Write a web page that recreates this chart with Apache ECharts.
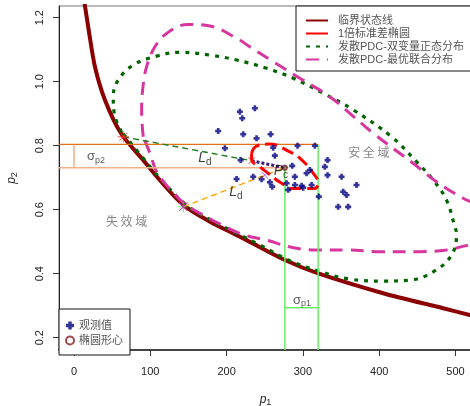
<!DOCTYPE html>
<html>
<head>
<meta charset="utf-8">
<script src="https://cdn.jsdelivr.net/npm/echarts@6/dist/echarts.min.js"></script>
<style>
  html, body { margin: 0; padding: 0; background: #fff; }
  #chart { width: 470px; height: 406px; }
</style>
</head>
<body>
<div id="chart"></div>
<script>
'use strict';

// 刻度
var xTicks = [0, 100, 200, 300, 400, 500];
var yTicks = [0.2, 0.4, 0.6, 0.8, 1.0, 1.2];

// 临界状态线
var limitX = [12.4, 14.4, 20.0, 27.5, 40.6, 61.6, 90.8, 112.7, 143.2, 178.2, 208.7, 226.2, 276.4, 320.1, 405.2, 483.8, 518.7, 530];
var limitY = [1.265, 1.2375, 1.151, 1.047, 0.943, 0.839, 0.755, 0.692, 0.615, 0.5625, 0.526, 0.505, 0.443, 0.401, 0.339, 0.292, 0.271, 0.265];

// 1倍标准差椭圆
var ellX = [232.8, 239.3, 254.5, 282.9, 298.7, 313.5, 320.0, 313.5, 287.3, 272.1, 254.5, 243.6, 232.8, 232.8];
var ellY = [0.776, 0.799, 0.805, 0.781, 0.755, 0.714, 0.6825, 0.666, 0.666, 0.6825, 0.714, 0.734, 0.758, 0.776];

// 发散PDC-双变量正态分布
var normX = [62.5, 52.8, 51.5, 58.0, 77.7, 108.3, 138.9, 178.2, 213.1, 252.4, 287.3, 326.6, 365.9, 416.2, 448.9, 470.7, 488.2, 499.1, 501.3, 494.8, 470.7, 440.1, 405.2, 361.5, 322.2, 282.9, 243.6, 208.7, 178.2, 147.6, 114.0, 90.4, 62.5];
var normY = [0.843, 0.901, 0.953, 1.005, 1.052, 1.080, 1.092, 1.083, 1.068, 1.042, 1.011, 0.964, 0.912, 0.828, 0.750, 0.693, 0.630, 0.547, 0.526, 0.458, 0.406, 0.380, 0.377, 0.383, 0.407, 0.441, 0.490, 0.532, 0.569, 0.614, 0.695, 0.762, 0.843];

// 发散PDC-最优联合分布
var optX = [90.8, 88.7, 90.0, 95.2, 106.1, 121.4, 149.7, 178.2, 213.1, 230.5, 261.1, 296.0, 335.3, 361.5, 392.1, 444.5, 475.1, 510.0, 531.8, 571, 532, 518.7, 488.2, 453.2, 400.8, 357.2, 317.9, 282.9, 252.4, 221.8, 195.6, 169.4, 147.6, 125.8, 108.3, 99.6, 90.8];
var optY = [0.828, 0.901, 0.974, 1.047, 1.109, 1.151, 1.179, 1.174, 1.136, 1.109, 1.0625, 1.011, 0.953, 0.901, 0.839, 0.745, 0.6875, 0.636, 0.612, 0.552, 0.492, 0.490, 0.474, 0.469, 0.469, 0.474, 0.474, 0.484, 0.505, 0.522, 0.550, 0.583, 0.614, 0.664, 0.719, 0.776, 0.828];

// 观测值
var obsX = [237.1, 217.4, 220.5, 189.0, 221.8, 239.3, 257.7, 197.8, 261.1, 293.0, 315.7, 263.3, 218.4, 286.0, 332.3, 328.8, 332.3, 213.1, 234.9, 245.9, 256.7, 259.8, 289.5, 304.8, 309.1, 278.6, 280.7, 289.5, 298.3, 300.4, 311.4, 320.9, 350.7, 370.3, 352.8, 357.2, 346.2, 359.3];
var obsY = [0.917, 0.906, 0.886, 0.846, 0.836, 0.823, 0.836, 0.792, 0.794, 0.800, 0.800, 0.769, 0.755, 0.737, 0.755, 0.734, 0.708, 0.696, 0.703, 0.695, 0.686, 0.672, 0.703, 0.714, 0.724, 0.6825, 0.662, 0.677, 0.675, 0.669, 0.677, 0.641, 0.703, 0.677, 0.656, 0.646, 0.609, 0.609];

// 椭圆形心与标准差
var centerP1 = 276.4, centerP2 = 0.731;
var sigmaP1 = 43.6, sigmaP2 = 0.073;

// 设计点（星号）与 Ld 终点（叉号）
var starNorm = [64.6, 0.828];
var starOpt = [143.2, 0.609];
var crossNorm = [232.8, 0.753];
var crossOpt = [250.2, 0.708];

// 文字标注
var noteText = ['{t|安 全 域}', '{t|失 效 域}', '{g|σ}{s|p2}', '{g|σ}{s|p1}', '{l|L}{d|d}', '{l|L}{d|d}', '{l|P}{d|c}'];
var noteX = [386.4, 69.0, 28.8, 298.7, 171.6, 212.2, 271.2];
var noteY = [0.780, 0.5625, 0.766, 0.318, 0.762, 0.655, 0.721];

var xMin = -19.6, xMax = 521.6;
var yMin = 0.1616, yMax = 1.2366;

var FONT = 'Liberation Sans, Arial, Noto Sans CJK SC, sans-serif';
var PLUS_FAT = 'path://M-1.3,-3L1.3,-3L1.3,-1.3L3,-1.3L3,1.3L1.3,1.3L1.3,3L-1.3,3L-1.3,1.3L-3,1.3L-3,-1.3L-1.3,-1.3Z';
var STAR = 'path://M-0.8,-10L0.8,-10L0.8,10L-0.8,10ZM-10,-0.8L10,-0.8L10,0.8L-10,0.8ZM-6.6,-7.7L7.7,6.6L6.6,7.7L-7.7,-6.6ZM6.6,-7.7L7.7,-6.6L-6.6,7.7L-7.7,6.6Z';
var CROSS = 'path://M-6.6,-7.7L7.7,6.6L6.6,7.7L-7.7,-6.6ZM6.6,-7.7L7.7,-6.6L-6.6,7.7L-7.7,6.6Z';
var PLUS = 'path://M-0.8,-10L0.8,-10L0.8,10L-0.8,10ZM-10,-0.8L10,-0.8L10,0.8L-10,0.8Z';

function zip(xs, ys) {
  var out = [];
  for (var i = 0; i < xs.length; i++) {
    out.push([xs[i], ys[i]]);
  }
  return out;
}

// 辅助线段
function segment(pts, color, width, type, z) {
  return {
    type: 'line', data: pts, symbol: 'none', silent: true, z: z,
    lineStyle: { color: color, width: width, type: type }
  };
}

function marker(pt, symbol, size, color, z) {
  return {
    type: 'scatter', data: [pt], symbol: symbol, symbolSize: size, silent: true, z: z,
    itemStyle: { color: color }
  };
}

var notes = [];
for (var i = 0; i < noteText.length; i++) {
  notes.push({ value: [noteX[i], noteY[i]], label: { formatter: noteText[i] } });
}

var chart = echarts.init(document.getElementById('chart'), null, { renderer: 'canvas' });

var option = {
  animation: false,
  grid: {
    left: 59, right: -2, top: 6, bottom: 56,
    outerBoundsMode: 'none', containLabel: false,
    show: true, borderColor: '#777', borderWidth: 1
  },
  legend: [
    {
      data: [
        { name: '临界状态线' },
        { name: '1倍标准差椭圆', lineStyle: { type: 'solid' } },
        { name: '发散PDC-双变量正态分布' },
        { name: '发散PDC-最优联合分布' }
      ],
      orient: 'vertical', left: 296, top: 6,
      padding: [9, 40, 6, 9], itemWidth: 22, itemHeight: 10, itemGap: 2,
      backgroundColor: '#fff', borderColor: '#111', borderWidth: 1,
      selectedMode: false,
      itemStyle: { opacity: 0 },
      textStyle: { fontSize: 11, color: '#555', fontFamily: FONT, padding: [0, 0, 0, 5] }
    },
    {
      data: ['观测值', '椭圆形心'],
      orient: 'vertical', left: 59, top: 309,
      padding: [11, 7, 9, 6], itemWidth: 8, itemHeight: 8, itemGap: 4,
      backgroundColor: '#fff', borderColor: '#111', borderWidth: 1,
      selectedMode: false,
      textStyle: { fontSize: 11, color: '#555', fontFamily: FONT }
    }
  ],
  xAxis: {
    type: 'value', min: xMin, max: xMax,
    name: '{i|p}{s|1}', nameLocation: 'middle', nameGap: 42,
    nameTextStyle: {
      rich: {
        i: { fontSize: 12, fontStyle: 'italic', color: '#222', fontFamily: FONT },
        s: { fontSize: 9, color: '#222', fontFamily: FONT, padding: [6, 0, 0, 0] }
      }
    },
    splitLine: { show: false },
    axisLine: { show: true, onZero: false, lineStyle: { color: '#444', width: 2 } },
    axisTick: { show: true, length: 6, customValues: xTicks, lineStyle: { color: '#333' } },
    axisLabel: { customValues: xTicks, margin: 16, fontSize: 11, color: '#222', fontFamily: FONT }
  },
  yAxis: {
    type: 'value', min: yMin, max: yMax,
    name: '{i|p}{s|2}', nameLocation: 'middle', nameGap: 40, nameRotate: 90,
    nameTextStyle: {
      rich: {
        i: { fontSize: 12, fontStyle: 'italic', color: '#222', fontFamily: FONT },
        s: { fontSize: 9, color: '#222', fontFamily: FONT, padding: [6, 0, 0, 0] }
      }
    },
    splitLine: { show: false },
    axisLine: { show: true, onZero: false, lineStyle: { color: '#222', width: 1 } },
    axisTick: { show: true, length: 6, customValues: yTicks, lineStyle: { color: '#333' } },
    axisLabel: {
      customValues: yTicks, margin: 14, rotate: 90, fontSize: 11, color: '#222', fontFamily: FONT,
      formatter: function(v) { return v.toFixed(1); }
    }
  },
  series: [
    {
      name: '临界状态线', type: 'line', data: zip(limitX, limitY), symbol: 'none', smooth: 0.3, z: 2,
      lineStyle: { color: '#8B0000', width: 4 }, itemStyle: { color: '#8B0000' }
    },
    {
      name: '发散PDC-双变量正态分布', type: 'line', data: zip(normX, normY), symbol: 'none', smooth: 0.4, z: 3,
      lineStyle: { color: '#006400', width: 3.2, type: [4, 6] }, itemStyle: { color: '#006400' }
    },
    {
      name: '发散PDC-最优联合分布', type: 'line', data: zip(optX, optY), symbol: 'none', smooth: 0.4, z: 3,
      lineStyle: { color: '#D6369E', width: 3, type: [13, 8] }, itemStyle: { color: '#D6369E' }
    },
    {
      name: '1倍标准差椭圆', type: 'line', data: zip(ellX, ellY), symbol: 'none', smooth: 0.5, z: 5,
      lineStyle: { color: '#FF0000', width: 3, type: [12, 6] }, itemStyle: { color: '#FF0000' }
    },
    // 标准差辅助线
    segment([[xMin, centerP2 + sigmaP2], [centerP1 + sigmaP1, centerP2 + sigmaP2]], '#E0701C', 1.3, 'solid', 4),
    segment([[xMin, centerP2], [centerP1, centerP2]], '#F2B088', 1.5, 'solid', 4),
    segment([[0, centerP2], [0, centerP2 + sigmaP2]], '#F2B088', 1.5, 'solid', 4),
    segment([[centerP1, centerP2], [centerP1, yMin]], '#66EE66', 1.5, 'solid', 4),
    segment([[centerP1 + sigmaP1, centerP2 + sigmaP2], [centerP1 + sigmaP1, yMin]], '#66EE66', 1.5, 'solid', 4),
    segment([[centerP1, 0.294], [centerP1 + sigmaP1, 0.294]], '#66EE66', 1.5, 'solid', 4),
    // Ld 连线
    segment([starNorm, crossNorm], '#1E7B1E', 1.4, [6, 4], 4),
    segment([crossNorm, [centerP1, centerP2]], '#3A1A8A', 3, [3, 2], 4),
    segment([starOpt, crossOpt, [centerP1, centerP2]], '#FFA500', 1.4, [6, 4], 4),
    {
      name: '观测值', type: 'scatter', data: zip(obsX, obsY), symbol: PLUS_FAT, symbolSize: 6, z: 6,
      itemStyle: { color: '#000080' }
    },
    {
      name: '椭圆形心', type: 'scatter', data: [[centerP1, centerP2]], symbol: 'emptyCircle', symbolSize: 4, z: 6,
      itemStyle: { color: '#8B1A1A', borderColor: '#8B1A1A', borderWidth: 1 }
    },
    marker([centerP1, centerP2], PLUS, 7, '#222', 7),
    marker(starNorm, STAR, 11, '#FF2020', 7),
    marker(starOpt, STAR, 11, '#22DD22', 7),
    marker(starOpt, CROSS, 9, '#FF00FF', 7),
    marker(crossNorm, CROSS, 7, '#E02020', 7),
    marker(crossOpt, CROSS, 7, '#9932CC', 7),
    {
      type: 'scatter', data: notes, symbolSize: 0, silent: true, z: 8,
      label: {
        show: true, position: [0, 0], align: 'center', verticalAlign: 'middle',
        rich: {
          t: { fontSize: 12, color: '#666', fontFamily: 'Noto Sans CJK SC' },
          g: { fontSize: 13, color: '#333', fontFamily: FONT },
          s: { fontSize: 9, color: '#333', fontFamily: FONT, padding: [7, 0, 0, 0] },
          l: { fontSize: 14, color: '#111', fontStyle: 'italic', fontFamily: FONT },
          d: { fontSize: 10, color: '#111', fontFamily: FONT, padding: [8, 0, 0, 0] }
        }
      }
    }
  ]
};

chart.setOption(option);
window.onresize = chart.resize;
</script>
</body>
</html>
